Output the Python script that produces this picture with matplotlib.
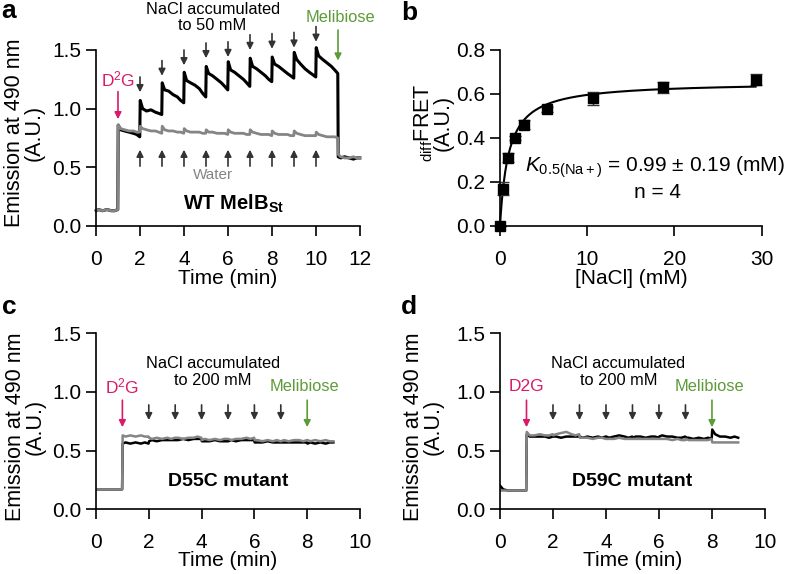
import numpy as np
import matplotlib.pyplot as plt

plt.rcParams['font.family'] = ['Liberation Sans', 'DejaVu Sans']
plt.rcParams['mathtext.fontset'] = 'custom'
plt.rcParams['mathtext.rm'] = 'Liberation Sans'
plt.rcParams['mathtext.it'] = 'Liberation Sans:italic'
plt.rcParams['mathtext.bf'] = 'Liberation Sans:bold'

PINK = '#d81b6a'
GREEN = '#5d9b38'
DARK = '#333333'
GRAY = '#858585'
FS = 15      # tick labels / axis labels
FS_NOTE = 11.8

# sample positions inside each minute of the traces
FRAC = [0.01, 0.12, 0.3, 0.5, 0.7, 0.85, 0.99]

# ---- panel a: WT MelBSt, one row per minute ----
wt_nacl = [
    [0.13, 0.14, 0.13, 0.14, 0.13, 0.13, 0.14],
    [0.86, 0.82, 0.81, 0.80, 0.79, 0.78, 0.76],
    [1.07, 1.00, 0.98, 0.99, 0.97, 0.96, 0.95],
    [1.22, 1.16, 1.15, 1.12, 1.10, 1.07, 1.05],
    [1.31, 1.24, 1.22, 1.20, 1.17, 1.13, 1.10],
    [1.36, 1.30, 1.28, 1.25, 1.22, 1.19, 1.16],
    [1.40, 1.33, 1.31, 1.28, 1.25, 1.22, 1.19],
    [1.43, 1.36, 1.34, 1.31, 1.28, 1.25, 1.23],
    [1.44, 1.38, 1.36, 1.33, 1.30, 1.28, 1.26],
    [1.48, 1.42, 1.38, 1.34, 1.31, 1.29, 1.27],
    [1.52, 1.45, 1.42, 1.39, 1.36, 1.33, 1.30],
    [0.59, 0.58, 0.59, 0.58, 0.57, 0.58, 0.58],
]
wt_water = [
    [0.13, 0.14, 0.13, 0.14, 0.13, 0.13, 0.14],
    [0.86, 0.83, 0.82, 0.81, 0.81, 0.80, 0.80],
    [0.85, 0.83, 0.82, 0.81, 0.81, 0.80, 0.79],
    [0.85, 0.82, 0.81, 0.81, 0.80, 0.80, 0.79],
    [0.83, 0.81, 0.80, 0.80, 0.80, 0.79, 0.79],
    [0.82, 0.80, 0.80, 0.79, 0.79, 0.79, 0.78],
    [0.82, 0.80, 0.79, 0.79, 0.79, 0.78, 0.78],
    [0.82, 0.80, 0.79, 0.78, 0.78, 0.78, 0.77],
    [0.81, 0.79, 0.78, 0.78, 0.78, 0.77, 0.77],
    [0.81, 0.79, 0.78, 0.77, 0.77, 0.77, 0.77],
    [0.80, 0.78, 0.77, 0.76, 0.76, 0.76, 0.75],
    [0.61, 0.59, 0.58, 0.58, 0.59, 0.58, 0.58],
]
wt_arrow_t = [2, 3, 4, 5, 6, 7, 8, 9, 10]
wt_arrow_top = [1.27, 1.41, 1.50, 1.56, 1.57, 1.63, 1.64, 1.65, 1.70]

# ---- panel b: titration ----
nacl_mM = [0, 0.33, 0.95, 1.7, 2.7, 5.4, 10.7, 18.7, 29.3]
diff_fret = [0.0, 0.17, 0.31, 0.40, 0.46, 0.53, 0.58, 0.63, 0.665]
fret_err = [0.0, 0.03, 0.02, 0.01, 0.02, 0.01, 0.03, 0.025, 0.025]
K_half = 0.99
V_max = 0.655

# ---- panel c: D55C ----
d55_nacl = [
    [0.17, 0.17, 0.17, 0.17, 0.17, 0.17, 0.17],
    [0.56, 0.57, 0.56, 0.57, 0.56, 0.57, 0.56],
    [0.58, 0.59, 0.58, 0.59, 0.59, 0.59, 0.59],
    [0.59, 0.59, 0.60, 0.59, 0.60, 0.60, 0.60],
    [0.58, 0.58, 0.58, 0.59, 0.58, 0.58, 0.58],
    [0.58, 0.59, 0.58, 0.59, 0.59, 0.59, 0.59],
    [0.57, 0.57, 0.57, 0.58, 0.57, 0.57, 0.57],
    [0.57, 0.57, 0.57, 0.57, 0.57, 0.57, 0.57],
    [0.56, 0.57, 0.56, 0.57, 0.56, 0.57, 0.57],
]
d55_water = [
    [0.17, 0.17, 0.17, 0.17, 0.17, 0.17, 0.17],
    [0.63, 0.62, 0.63, 0.62, 0.63, 0.62, 0.62],
    [0.61, 0.60, 0.61, 0.60, 0.61, 0.60, 0.61],
    [0.61, 0.61, 0.60, 0.61, 0.61, 0.62, 0.61],
    [0.59, 0.60, 0.59, 0.60, 0.59, 0.60, 0.60],
    [0.60, 0.59, 0.60, 0.60, 0.61, 0.60, 0.61],
    [0.59, 0.59, 0.58, 0.59, 0.58, 0.59, 0.58],
    [0.58, 0.59, 0.58, 0.59, 0.59, 0.58, 0.59],
    [0.59, 0.58, 0.59, 0.58, 0.59, 0.58, 0.58],
]

# ---- panel d: D59C ----
d59_nacl = [
    [0.20, 0.17, 0.16, 0.16, 0.16, 0.16, 0.16],
    [0.64, 0.62, 0.62, 0.62, 0.62, 0.61, 0.62],
    [0.62, 0.62, 0.61, 0.62, 0.62, 0.62, 0.62],
    [0.62, 0.61, 0.62, 0.61, 0.62, 0.61, 0.62],
    [0.62, 0.61, 0.62, 0.63, 0.62, 0.61, 0.62],
    [0.61, 0.62, 0.62, 0.61, 0.62, 0.62, 0.61],
    [0.62, 0.63, 0.62, 0.62, 0.61, 0.61, 0.62],
    [0.61, 0.61, 0.60, 0.61, 0.60, 0.61, 0.60],
    [0.68, 0.64, 0.62, 0.62, 0.61, 0.62, 0.61],
]
d59_water = [
    [0.16, 0.16, 0.16, 0.16, 0.16, 0.16, 0.16],
    [0.66, 0.63, 0.63, 0.64, 0.63, 0.63, 0.64],
    [0.63, 0.64, 0.65, 0.66, 0.64, 0.63, 0.64],
    [0.61, 0.61, 0.61, 0.60, 0.61, 0.61, 0.60],
    [0.60, 0.60, 0.60, 0.61, 0.60, 0.60, 0.60],
    [0.60, 0.60, 0.60, 0.60, 0.60, 0.60, 0.60],
    [0.60, 0.60, 0.60, 0.59, 0.60, 0.59, 0.59],
    [0.60, 0.59, 0.59, 0.59, 0.59, 0.59, 0.60],
    [0.57, 0.57, 0.57, 0.57, 0.57, 0.57, 0.57],
]
mut_arrow_t = [2, 3, 4, 5, 6, 7]


def trace(rows):
    t = [m + f for m, row in enumerate(rows) for f in FRAC]
    y = [v for row in rows for v in row]
    return t, y


def arrow(ax, x, tail, tip, color):
    ax.annotate('', xy=(x, tip), xytext=(x, tail), annotation_clip=False,
                arrowprops=dict(arrowstyle='-|>', color=color, lw=1.2,
                                mutation_scale=10, shrinkA=0, shrinkB=0))


def style(ax, xmax, xstep, ymax, ystep, yfmt):
    for s in ['top', 'right']:
        ax.spines[s].set_visible(False)
    for s in ['left', 'bottom']:
        ax.spines[s].set_linewidth(1.2)
    ax.set_xlim(0, xmax)
    ax.set_ylim(0, ymax)
    ax.set_xticks(np.arange(0, xmax + xstep / 2, xstep))
    yt = np.arange(0, ymax + ystep / 2, ystep)
    ax.set_yticks(yt)
    ax.set_yticklabels([yfmt.format(v) for v in yt])
    ax.tick_params(direction='out', length=7.5, width=1.2, labelsize=FS)
    ax.tick_params(axis='y', pad=3)
    ax.tick_params(axis='x', pad=9.5)


fig = plt.figure(figsize=(7.9, 5.74), dpi=100)
ax_a = fig.add_axes([0.1215, 0.6063, 0.3342, 0.3066])
ax_b = fig.add_axes([0.6329, 0.6063, 0.3313, 0.3066])
ax_c = fig.add_axes([0.1215, 0.1127, 0.3342, 0.3066])
ax_d = fig.add_axes([0.6329, 0.1127, 0.3354, 0.3066])

# ---- a ----
ax = ax_a
t, y = trace(wt_nacl)
ax.plot(t, y, color='black', lw=2.2, clip_on=False)
t, y = trace(wt_water)
ax.plot(t, y, color=GRAY, lw=2.0, clip_on=False)
style(ax, 12, 2, 1.5, 0.5, '{:.1f}')
for x, top in zip(wt_arrow_t, wt_arrow_top):
    arrow(ax, x, top, top - 0.13, DARK)
    arrow(ax, x, 0.51, 0.65, DARK)
arrow(ax, 1.0, 1.145, 0.91, PINK)
arrow(ax, 11.0, 1.67, 1.41, GREEN)
ax.text(1.0, 1.245, r'D$^{2}$G', color=PINK, fontsize=12.5, ha='center', va='center')
ax.text(11.1, 1.78, 'Melibiose', color=GREEN, fontsize=FS_NOTE, ha='center', va='center')
ax.text(5.3, 1.78, 'NaCl accumulated\nto 50 mM', fontsize=FS_NOTE, ha='center',
        va='center', linespacing=1.1)
ax.text(5.3, 0.435, 'Water', color=GRAY, fontsize=11, ha='center', va='center')
ax.text(6.24, 0.19, r'WT MelB$_{\mathbf{St}}$', fontsize=14.5, fontweight='bold',
        ha='center', va='center')
ax.set_xlabel('Time (min)', fontsize=FS, labelpad=0)

# ---- b ----
ax = ax_b
xs = np.linspace(0, 29.3, 300)
ax.plot(xs, V_max * xs / (K_half + xs), color='black', lw=1.5, clip_on=False)
ax.errorbar(nacl_mM, diff_fret, yerr=fret_err, fmt='s', color='black', ms=7.5,
            ecolor=DARK, elinewidth=1, capsize=4, capthick=1, clip_on=False)
style(ax, 30, 10, 0.8, 0.2, '{:.1f}')
ax.text(2.9, 0.265, r'$\mathit{K}_{\mathrm{0.5(Na+)}}$ = 0.99 ± 0.19 (mM)',
        fontsize=FS, ha='left', va='center')
ax.text(18.1, 0.15, 'n = 4', fontsize=FS, ha='center', va='center')
ax.set_xlabel('[NaCl] (mM)', fontsize=FS, labelpad=0)

# ---- c and d ----
for ax, nacl, water, d2g, cx, name in [
        (ax_c, d55_nacl, d55_water, r'D$^{2}$G', 4.43, 'D55C mutant'),
        (ax_d, d59_nacl, d59_water, 'D2G', 4.47, 'D59C mutant')]:
    t, y = trace(nacl)
    ax.plot(t, y, color='black', lw=1.8)
    t, y = trace(water)
    ax.plot(t, y, color=GRAY, lw=1.8)
    style(ax, 10, 2, 1.5, 0.5, '{:.1f}')
    for x in mut_arrow_t:
        arrow(ax, x, 0.89, 0.76, DARK)
    arrow(ax, 1.0, 0.93, 0.70, PINK)
    arrow(ax, 8.0, 0.93, 0.70, GREEN)
    ax.text(1.0, 1.045, d2g, color=PINK, fontsize=12.5, ha='center', va='center')
    ax.text(7.9, 1.045, 'Melibiose', color=GREEN, fontsize=FS_NOTE, ha='center', va='center')
    ax.text(cx, 1.17, 'NaCl accumulated\nto 200 mM', fontsize=FS_NOTE, ha='center',
            va='center', linespacing=1.1)
    ax.text(5.0, 0.235, name, fontsize=14, fontweight='bold', ha='center', va='center')
    ax.set_xlabel('Time (min)', fontsize=FS, labelpad=-1)

# y labels and panel letters
ylab = 'Emission at 490 nm\n(A.U.)'
for yx, yy in [(0.031, 0.768), (0.032, 0.256), (0.536, 0.256)]:
    fig.text(yx, yy, ylab, rotation=90, fontsize=15.5, ha='center', va='center',
             linespacing=0.92)
fig.text(0.548, 0.786, r'$_{\mathrm{diff}}$FRET' + '\n(A.U.)', rotation=90, fontsize=15.5,
         ha='center', va='center', linespacing=0.88)

for lx, ly, lab in [(0.002, 0.980, 'a'), (0.508, 0.978, 'b'),
                    (0.002, 0.466, 'c'), (0.508, 0.466, 'd')]:
    fig.text(lx, ly, lab, fontsize=19, fontweight='bold', ha='left', va='center')

fig.savefig('out.png', dpi=100)
